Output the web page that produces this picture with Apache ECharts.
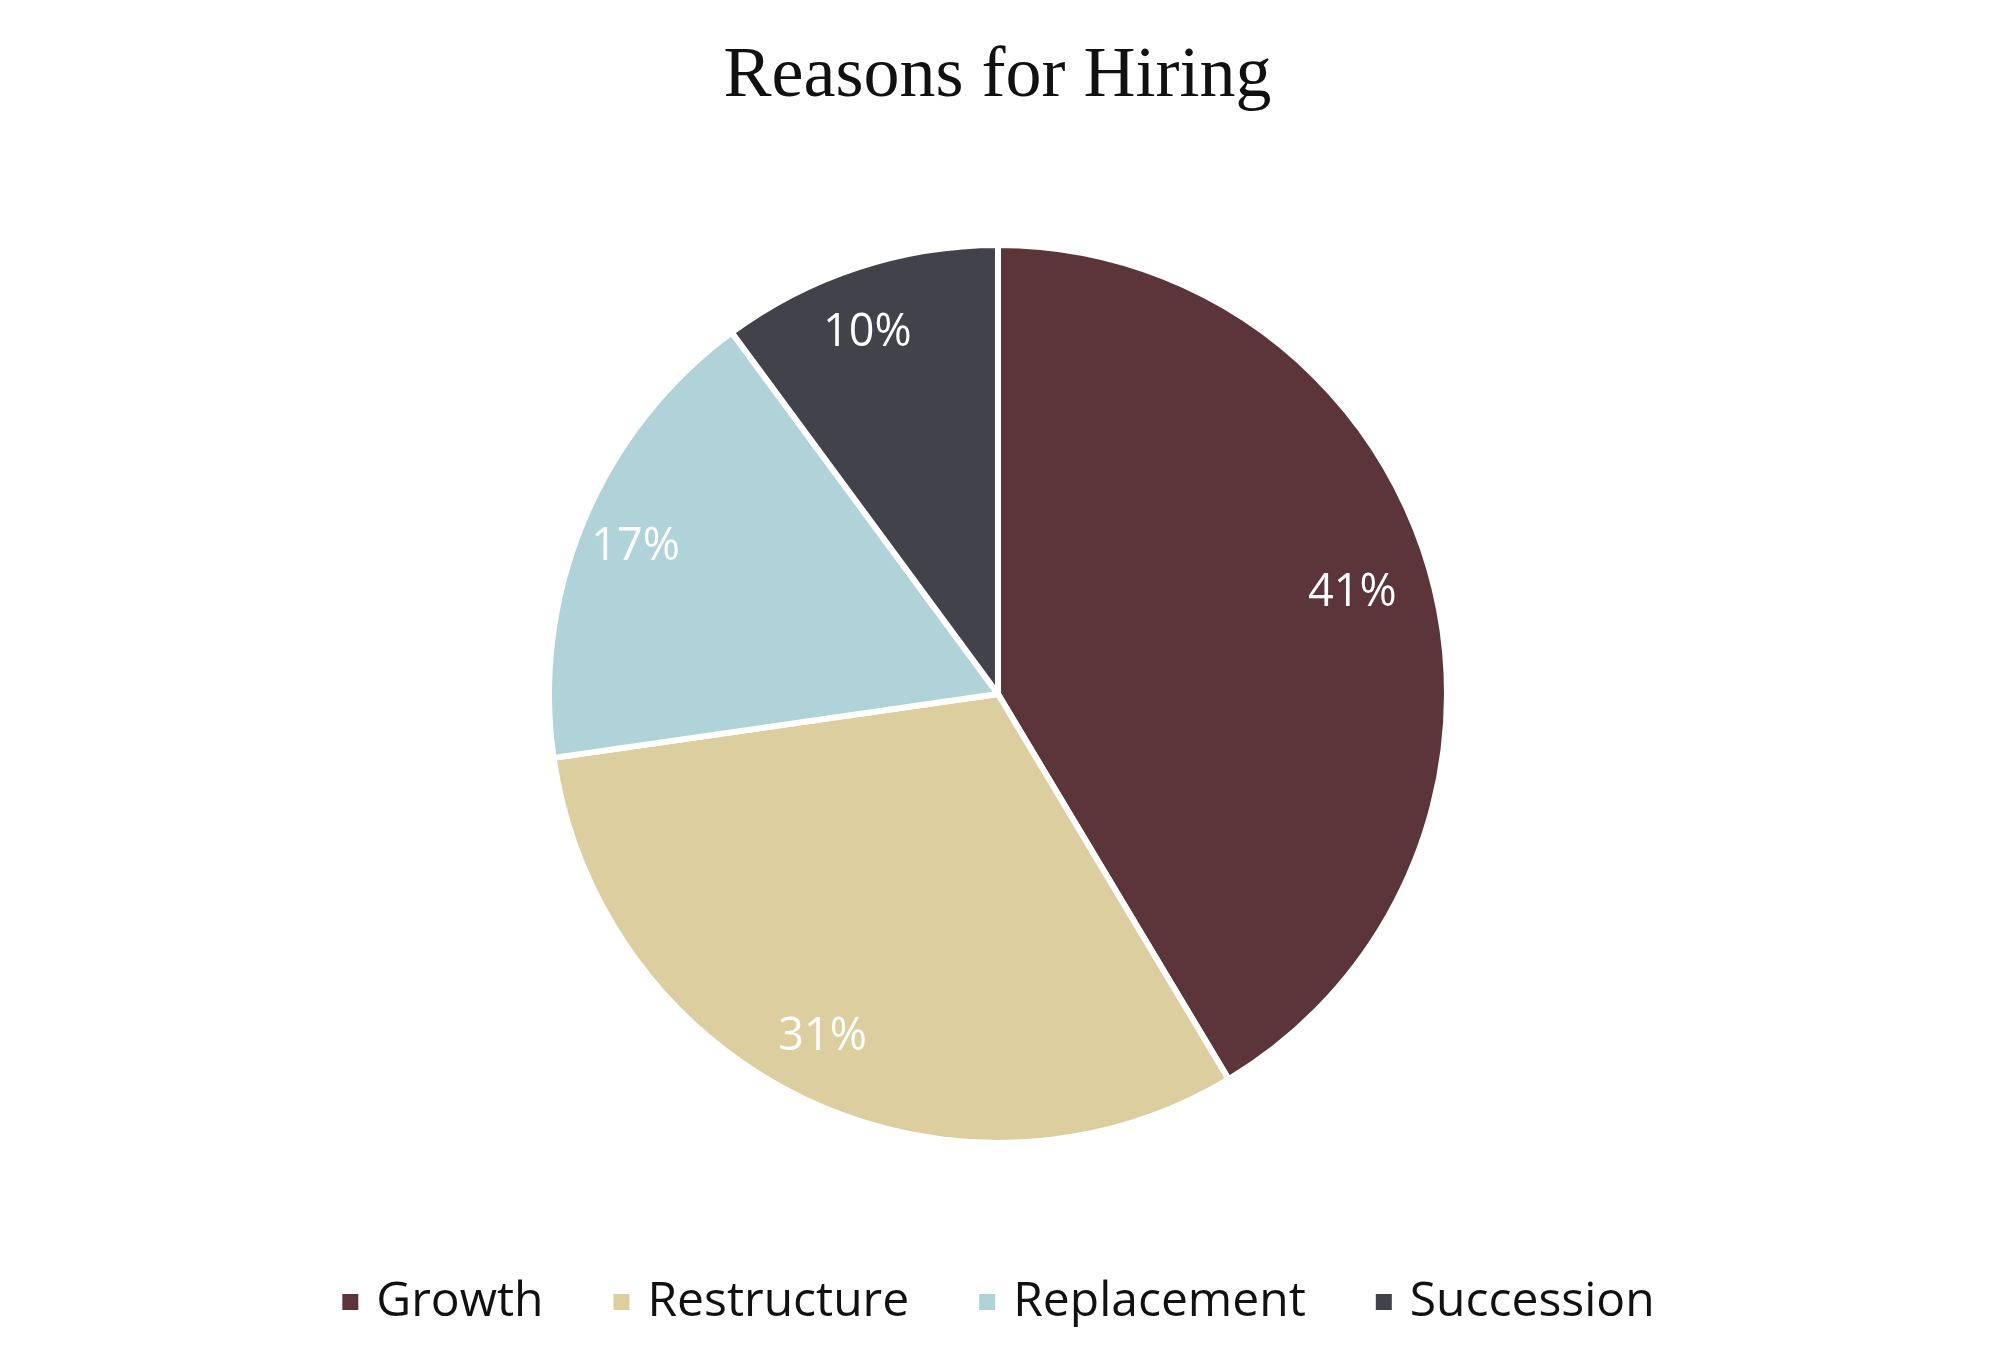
<!DOCTYPE html>
<html>
<head>
<meta charset="utf-8">
<title>Reasons for Hiring</title>
<script src="https://cdn.jsdelivr.net/npm/echarts@6/dist/echarts.min.js"></script>
<style>
  html, body { margin: 0; padding: 0; background: #fff; }
  #chart { width: 1995px; height: 1371px; }
</style>
</head>
<body>
<div id="chart"></div>
<script>
const reasons = ["Growth", "Restructure", "Replacement", "Succession"];
const shares = [41, 31, 17, 10];
const colors = ["#5C353A", "#DCCE9E", "#B0D3D9", "#42424B"];

const slices = reasons.map((name, i) => ({ name, value: shares[i] }));

let chart = echarts.init(document.getElementById("chart"));

chart.setOption({
  backgroundColor: "#ffffff",
  color: colors,
  animation: false,
  title: {
    text: "Reasons for Hiring",
    left: "center",
    top: 36,
    textStyle: {
      fontFamily: "Liberation Serif",
      fontSize: 72,
      fontWeight: "normal",
      color: "#111111",
    },
  },
  legend: {
    data: reasons,
    bottom: 40,
    left: "center",
    icon: "rect",
    itemWidth: 18,
    itemHeight: 18,
    itemGap: 68,
    textStyle: {
      fontFamily: "Open Sans",
      fontSize: 48,
      color: "#111111",
      padding: [0, 0, 0, 12],
    },
  },
  series: [
    {
      type: "pie",
      center: [998, 694],
      radius: [0, 449],
      startAngle: 90,
      data: slices,
      label: { show: false },
      labelLine: { show: false },
      itemStyle: { borderColor: "#ffffff", borderWidth: 6 },
      emphasis: { disabled: true },
    },
    {
      // transparent ring, only used to put the labels near the rim
      type: "pie",
      center: [998, 694],
      radius: [305, 449],
      startAngle: 90,
      silent: true,
      data: slices,
      itemStyle: { color: "rgba(0,0,0,0)", borderWidth: 0 },
      label: {
        show: true,
        position: "inside",
        formatter: "{c}%",
        fontFamily: "Open Sans",
        fontSize: 45,
        color: "#ffffff",
        offset: [-12, 0],
      },
      labelLine: { show: false },
      emphasis: { disabled: true },
    },
  ],
});

window.addEventListener("resize", () => {
  if (chart) {
    chart.resize();
  }
});
</script>
</body>
</html>
